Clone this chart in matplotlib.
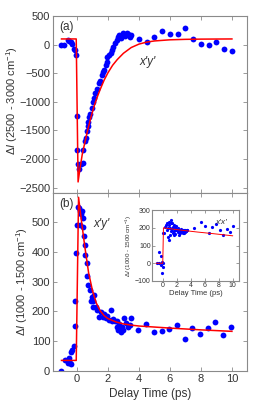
import matplotlib
matplotlib.use("Agg")
import matplotlib.pyplot as plt

plt.rcParams['font.family'] = ['Liberation Sans', 'DejaVu Sans']
plt.rcParams['mathtext.fontset'] = 'custom'
plt.rcParams['mathtext.rm'] = 'Liberation Sans'
plt.rcParams['mathtext.it'] = 'Liberation Sans:italic'

# ---------------- Panel (a) data ----------------
a_x = [-1.03, -0.82, -0.6, -0.5, -0.4, -0.3, -0.2, -0.12, -0.05,
       -0.02, 0.02, 0.09, 0.15, 0.26, 0.37, 0.41, 0.54, 0.58, 0.67, 0.71,
       0.73, 0.8, 0.84, 0.95, 1.01, 1.12, 1.16, 1.27, 1.4, 1.48, 1.59,
       1.66, 1.74, 1.85, 1.91, 1.96, 2.09, 2.17, 2.24, 2.34, 2.45, 2.56,
       2.67, 2.73, 2.82, 2.92, 2.99, 3.1, 3.2, 3.31, 3.42, 3.48,
       4.02, 4.49, 4.99, 5.48, 6.0, 6.5, 7.0, 7.5, 8.0, 8.5, 9.0, 9.48, 9.98]
a_y = [0, 0, 80, 70, 50, 20, -80, -100, -180,
       -1242, -1846, -2078, -2165, -2078, -2067, -1846, -1690, -1631, -1515, -1416,
       -1358, -1265, -1207, -1108, -1010, -934, -847, -777, -673, -627, -528,
       -470, -441, -354, -296, -208, -179, -139, -92, -35, 24, 82,
       140, 169, 111, 169, 198, 152, 210, 187, 128, 169,
       99, 47, 140, 239, 181, 181, 285, 94, 7, -5, 52, -75, -105]
a_fit_x = [-1.0, -0.05, 0.07, 0.2, 0.35, 0.5, 0.7, 0.9, 1.1, 1.3, 1.5, 1.75,
           2.0, 2.3, 2.6, 3.0, 3.5, 4.0, 4.5, 5.0, 6.0, 7.0, 8.0, 10.0]
a_fit_y = [100, 100, -2400, -2150, -1900, -1720, -1480, -1270, -1080, -920,
           -780, -620, -490, -360, -260, -150, -50, 10, 45, 65, 85, 93, 97, 100]

# ---------------- Panel (b) data ----------------
b_x = [-1.01, -0.8, -0.58, -0.48, -0.37, -0.52, -0.37, -0.3, -0.21, -0.15,
       -0.11, -0.04, 0.0, 0.06, 0.12, 0.17, 0.22, 0.28, 0.32, 0.37, 0.41,
       0.45, 0.52, 0.54, 0.62, 0.66, 0.73, 0.84, 0.88, 0.95, 1.01, 1.05,
       1.12, 1.23, 1.31, 1.44, 1.53, 1.66, 1.74, 1.87, 1.96, 2.09, 2.17,
       2.26, 2.34, 2.45, 2.56, 2.6, 2.67, 2.73, 2.82, 2.88, 2.99, 3.03,
       3.16, 3.31, 3.42, 3.48, 3.96, 4.45, 4.97, 5.46, 5.96, 6.47, 6.96,
       7.45, 7.97, 8.45, 8.94, 9.45, 9.94]
b_y = [0, 37, 26, 25, 24, 43, 62, 71, 82, 150,
       234, 398, 490, 553, 549, 490, 540, 530, 540, 515, 486,
       453, 425, 392, 363, 318, 290, 273, 235, 250, 235, 216,
       256, 216, 205, 182, 199, 182, 190, 177, 186, 171, 205,
       168, 175, 168, 149, 168, 137, 157, 132, 149, 137, 177,
       160, 149, 154, 179, 137, 157, 132, 134, 140, 154, 107,
       143, 123, 143, 163, 120, 149]
b_fit_x = [-1.0, -0.05, 0.1, 0.3, 0.5, 0.75, 1.0, 1.25, 1.5, 1.75, 2.0,
           2.5, 3.0, 3.5, 4.0, 6.0, 8.0, 10.0]
b_fit_y = [35, 35, 585, 500, 420, 330, 270, 228, 202, 186, 176,
           165, 158, 154, 151, 144, 138, 133]

# ---------------- Inset data ----------------
i_x = [-0.92, -0.53, -0.53, -0.29, -0.2, -0.3, -0.05, -0.14, 0.05, 0.05,
       0.14, 0.29, 0.4, 0.5, 0.6, 0.7, 0.8, 0.9, 1.0, 1.05, 1.1, 1.2, 1.25,
       1.3, 1.4, 1.5, 1.55, 1.6, 1.7, 1.8, 1.9, 2.0, 2.1, 2.2, 2.3, 2.4,
       2.5, 2.6, 2.7, 2.8, 2.9, 3.0, 3.1, 3.2, 3.3, 3.4, 3.5, 0.7, 0.9,
       1.15, 1.45, 1.75, 2.05, 2.35, 2.65, 2.95, 3.25,
       4.49, 5.5, 6.09, 6.57, 7.05, 7.68, 8.16, 8.65, 9.13, 9.56, 10.05]
i_y = [3, 3, 65, 41, 5, -10, -20, -53, 0, 172,
       169, 205, 215, 225, 190, 200, 235, 215, 200, 160, 244, 230, 195,
       225, 205, 180, 160, 215, 200, 185, 210, 195, 175, 200, 190, 170,
       185, 195, 180, 170, 190, 185, 175, 190, 180, 185, 190, 150, 130,
       180, 170, 165, 185, 160, 175, 170, 180,
       201, 234, 210, 169, 202, 221, 187, 159, 191, 178, 212]
i_fit_x = [-1.0, -0.05, 0.05, 1.0, 3.0, 5.0, 7.0, 10.0]
i_fit_y = [0, 0, 200, 195, 185, 176, 168, 155]

spine_col = '#8a8a8a'
text_col = '#333333'
blue = '#0000ff'
red = '#ff0000'

fig = plt.figure(figsize=(2.69, 4.12), dpi=100)
ax_a = fig.add_axes([0.197, 0.532, 0.721, 0.429])
ax_b = fig.add_axes([0.197, 0.100, 0.721, 0.432])


def style(ax, fs):
    for s in ax.spines.values():
        s.set_color(spine_col)
        s.set_linewidth(0.8)
    ax.tick_params(direction='in', top=True, right=True, length=3,
                   width=0.6, color=spine_col, labelcolor=text_col,
                   labelsize=fs, pad=2)


for ax in (ax_a, ax_b):
    style(ax, 8)
    ax.set_xlim(-1.55, 10.97)
    ax.set_xticks([0, 2, 4, 6, 8, 10])

# Panel a
ax_a.plot(a_x, a_y, 'o', color=blue, ms=4.2, mew=0, zorder=2)
ax_a.plot(a_fit_x, a_fit_y, '-', color=red, lw=1.1, zorder=3)
ax_a.set_ylim(-2590, 500)
ax_a.set_yticks([500, 0, -500, -1000, -1500, -2000, -2500])
ax_a.tick_params(labelbottom=False)
ax_a.set_ylabel(r'$\Delta\mathit{I}$ (2500 - 3000 cm$^{-1}$)', fontsize=8,
                color=text_col)
ax_a.yaxis.set_label_coords(-0.172, 0.52)
ax_a.text(0.03, 0.97, '(a)', transform=ax_a.transAxes, fontsize=8.5,
          color=text_col, va='top', ha='left')
ax_a.text(4.55, -300, "x'y'", fontsize=8.5, style='italic', color=text_col,
          ha='center', va='center')

# Panel b
ax_b.plot(b_x, b_y, 'o', color=blue, ms=4.2, mew=0, zorder=2)
ax_b.plot(b_fit_x, b_fit_y, '-', color=red, lw=1.1, zorder=3)
ax_b.set_ylim(0, 600)
ax_b.set_yticks([0, 100, 200, 300, 400, 500])
ax_b.set_ylabel(r'$\Delta\mathit{I}$ (1000 - 1500 cm$^{-1}$)', fontsize=8,
                color=text_col)
ax_b.yaxis.set_label_coords(-0.12, 0.5)
ax_b.set_xlabel('Delay Time (ps)', fontsize=8.5, color=text_col, labelpad=3)
ax_b.text(0.03, 0.97, '(b)', transform=ax_b.transAxes, fontsize=8.5,
          color=text_col, va='top', ha='left')
ax_b.text(1.6, 495, "x'y'", fontsize=8.5, style='italic', color=text_col,
          ha='center', va='center')

# Inset
ax_i = fig.add_axes([0.565, 0.318, 0.323, 0.172])
style(ax_i, 5)
ax_i.tick_params(length=2, pad=1)
ax_i.plot(i_x, i_y, 'o', color=blue, ms=2.3, mew=0, zorder=2)
ax_i.plot(i_fit_x, i_fit_y, '-', color=red, lw=0.7, zorder=3)
ax_i.set_xlim(-1.6, 10.9)
ax_i.set_ylim(-100, 300)
ax_i.set_xticks([0, 2, 4, 6, 8, 10])
ax_i.set_yticks([-100, 0, 100, 200, 300])
ax_i.set_xlabel('Delay Time (ps)', fontsize=5.5, color=text_col, labelpad=0.5)
ax_i.set_ylabel(r'$\Delta\mathit{I}$ (1000 - 1500 cm$^{-1}$)', fontsize=4.5,
                color=text_col, labelpad=0.5)
ax_i.text(8.3, 232, "x'x'", fontsize=6, style='italic', color=text_col,
          ha='center', va='center')

fig.savefig('out.png', dpi=100)
